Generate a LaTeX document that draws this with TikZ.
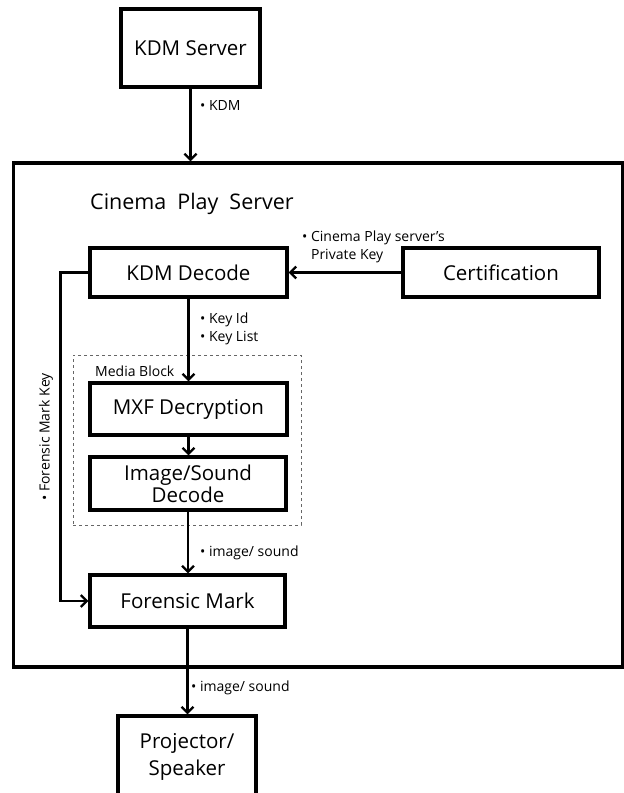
\documentclass[tikz,border=0pt]{standalone}
\usepackage{fontspec}
\setmainfont{Open Sans}
\usetikzlibrary{arrows.meta,calc}
\begin{document}
\begin{tikzpicture}[x=1pt,y=-1pt,
  box/.style={draw,line width=3.2pt,rectangle,inner sep=0pt,align=center,
    font=\fontsize{20.5}{25}\selectfont},
  lbl/.style={font=\fontsize{14}{18}\selectfont,inner sep=0pt,align=left},
  arr/.style={line width=2.3pt,-{Straight Barb[length=6pt,width=12pt,line width=2.3pt]}},
  plain/.style={line width=2.3pt}]
\useasboundingbox (0,0) rectangle (624,793);
\clip (0,0) rectangle (624,793);

% outer server frame
\node[draw,line width=3.4pt,minimum width=609pt,minimum height=504pt,inner sep=0pt]
  (outer) at (318,415) {};
\node[font=\fontsize{21.5}{24}\selectfont,anchor=west,inner sep=0pt] (title) at (90,204)
  {Cinema\hspace{0.25em} Play\hspace{0.25em} Server};

% media block frame
\node[draw,gray!80!black,dashed,line width=1pt,minimum width=228pt,minimum height=170pt,inner sep=0pt]
  (media) at (187,440) {};
\node[lbl,anchor=west] (medialbl) at (95,371) {Media Block};

% boxes
\node[box,minimum width=139pt,minimum height=78pt] (kdms) at (190.5,48) {KDM Server};
\node[box,minimum width=197pt,minimum height=49pt] (kdmd) at (188.5,272.5) {KDM Decode};
\node[box,minimum width=196pt,minimum height=49pt] (cert) at (501,272.5) {Certification};
\node[box,minimum width=197pt,minimum height=52pt] (mxf) at (188.5,409) {MXF Decryption};
\node[box,minimum width=196pt,minimum height=53pt] (isd) at (188,483.5) {Image/Sound\\[-3pt]Decode};
\node[box,minimum width=195pt,minimum height=52pt] (fm) at (187.5,601) {Forensic Mark};
\node[box,minimum width=138pt,minimum height=164pt] (proj) at (187,798) {};
\node[font=\fontsize{20.5}{27}\selectfont,align=center,inner sep=0pt] (projtxt) at (187,757) {Projector/\\Speaker};

% connectors
\draw[arr] (kdms.south) -- (kdms.south |- outer.north);
\draw[arr] (cert.west) -- (kdmd.east);
\draw[arr] (kdmd.south) -- (kdmd.south |- mxf.north);
\draw[arr] (mxf.south) -- (mxf.south |- isd.north);
\draw[arr] (isd.south) -- (isd.south |- fm.north);
\draw[arr] (fm.south) -- (fm.south |- proj.north);
\draw[arr] (kdmd.west) -- ++(-28,0) coordinate (fmk) |- (fm.west);

% labels
\node[lbl,anchor=west] (l1) at (200,105) {• KDM};
\node[lbl,anchor=south west] (l2) at (302,263) {• Cinema Play server\symbol{"0027}s\\\phantom{• }Private Key};
\node[lbl,anchor=west] (l3) at (200,329) {• Key Id\\• Key List};
\node[lbl,anchor=west] (l4) at (200,553) {• image/ sound};
\node[lbl,anchor=west] (l5) at (191,688) {• image/ sound};
\node[lbl,rotate=90] (l6) at (46,437) {• Forensic Mark Key};
\end{tikzpicture}
\end{document}
